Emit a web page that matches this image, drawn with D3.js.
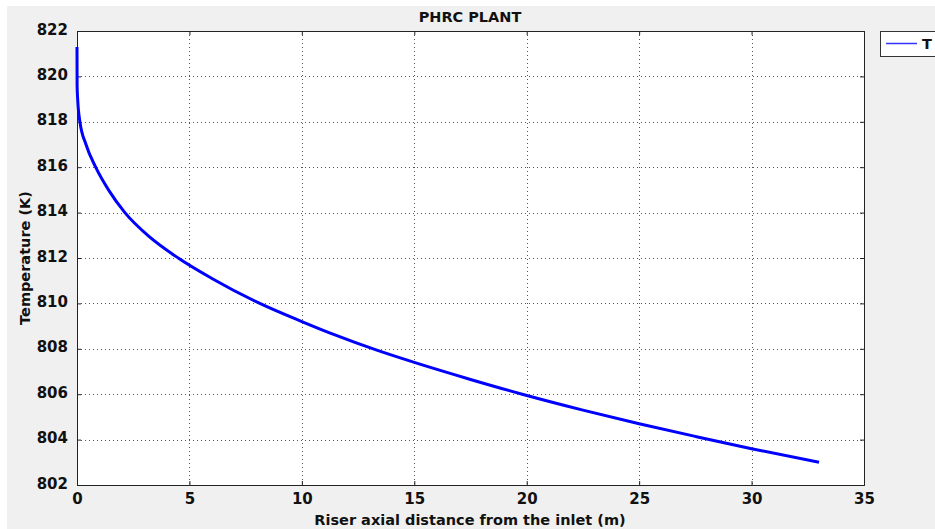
<!DOCTYPE html>
<html>
<head>
<meta charset="utf-8">
<script src="https://cdn.jsdelivr.net/npm/d3@7"></script>
<style>
  body { margin: 0; background: #fff; }
  svg text { font-family: "DejaVu Sans", sans-serif; fill: #111; font-weight: bold; }
</style>
</head>
<body>
<svg id="chart" width="935" height="529"></svg>
<script>
// riser axial distance (m) and temperature (K)
const distance = [0, 0.005, 0.03, 0.13, 0.4, 0.83, 1.4, 2.13, 3.2, 4.5, 6, 8.13, 10, 11.5, 13.3, 15, 17.5, 19.8, 22.5, 25, 27.5, 30, 33];
const temperature = [821.3, 819.6, 819.0, 818.0, 817.0, 816.0, 815.0, 814.0, 812.95, 812.0, 811.1, 810.0, 809.2, 808.6, 807.95, 807.4, 806.65, 806.0, 805.3, 804.7, 804.14, 803.6, 803.0];
const xTicks = [0, 5, 10, 15, 20, 25, 30, 35];
const yTicks = [802, 804, 806, 808, 810, 812, 814, 816, 818, 820, 822];
const seriesName = "T";

const svg = d3.select("#chart");
const plotL = 77, plotT = 31, plotR = 864, plotB = 485;

svg.append("rect").attr("x", 7).attr("y", 6).attr("width", 928).attr("height", 523).attr("fill", "#f0f0f0");
svg.append("rect").attr("x", plotL).attr("y", plotT).attr("width", plotR - plotL).attr("height", plotB - plotT).attr("fill", "#fff");

const x = d3.scaleLinear().domain([0, 35]).range([plotL, plotR]);
const y = d3.scaleLinear().domain([802, 822]).range([plotB, plotT]);

// dotted grid
const grid = svg.append("g").attr("stroke", "#555").attr("stroke-width", 1).attr("stroke-dasharray", "1,3");
grid.selectAll(".gx").data(xTicks.slice(1, -1)).enter().append("line")
  .attr("x1", d => Math.round(x(d)) + 0.5).attr("x2", d => Math.round(x(d)) + 0.5)
  .attr("y1", plotT).attr("y2", plotB);
grid.selectAll(".gy").data(yTicks.slice(1, -1)).enter().append("line")
  .attr("y1", d => Math.round(y(d)) + 0.5).attr("y2", d => Math.round(y(d)) + 0.5)
  .attr("x1", plotL).attr("x2", plotR);

// axes with inward ticks
const xAxis = svg.append("g").attr("transform", `translate(0,${plotB})`)
  .call(d3.axisBottom(x).tickValues(xTicks).tickSize(-4).tickPadding(8).tickFormat(d3.format("d")));
const xTop = svg.append("g").attr("transform", `translate(0,${plotT})`)
  .call(d3.axisTop(x).tickValues(xTicks).tickSize(-4).tickFormat(""));
const yAxis = svg.append("g").attr("transform", `translate(${plotL},0)`)
  .call(d3.axisLeft(y).tickValues(yTicks).tickSize(-4).tickPadding(9).tickFormat(d3.format("d")));
const yRight = svg.append("g").attr("transform", `translate(${plotR},0)`)
  .call(d3.axisRight(y).tickValues(yTicks).tickSize(-4).tickFormat(""));

[xAxis, xTop, yAxis, yRight].forEach(g => {
  g.select(".domain").attr("stroke", "#222");
  g.selectAll(".tick line").attr("stroke", "#222");
  g.selectAll("text").attr("font-size", 15).attr("font-family", "DejaVu Sans")
    .attr("font-weight", "bold").attr("fill", "#111");
});
xAxis.selectAll("text").attr("dy", "0.71em");
yAxis.selectAll("text").attr("dy", "0.2em");

// curve
const pts = distance.map((d, i) => [d, temperature[i]]);
svg.append("path").datum(pts)
  .attr("fill", "none").attr("stroke", "#0000ff").attr("stroke-width", 3)
  .attr("stroke-linejoin", "round")
  .attr("d", d3.line().x(d => x(d[0])).y(d => y(d[1])).curve(d3.curveMonotoneX));

// title and labels
svg.append("text").attr("x", 470).attr("y", 22).attr("text-anchor", "middle")
  .attr("font-size", 14.5).text("PHRC PLANT");
svg.append("text").attr("x", 470).attr("y", 525).attr("text-anchor", "middle")
  .attr("font-size", 14.5).text("Riser axial distance from the inlet (m)");
svg.append("text").attr("transform", "translate(30,258) rotate(-90)").attr("text-anchor", "middle")
  .attr("font-size", 14.5).text("Temperature (K)");

// legend
const lg = svg.append("g");
lg.append("rect").attr("x", 880.5).attr("y", 31.5).attr("width", 70).attr("height", 25)
  .attr("fill", "#fff").attr("stroke", "#333");
lg.append("line").attr("x1", 886).attr("x2", 917).attr("y1", 43.5).attr("y2", 43.5)
  .attr("stroke", "#3333ff").attr("stroke-width", 1.5);
lg.append("text").attr("x", 922).attr("y", 49).attr("font-size", 14.5).text(seriesName);
</script>
</body>
</html>
